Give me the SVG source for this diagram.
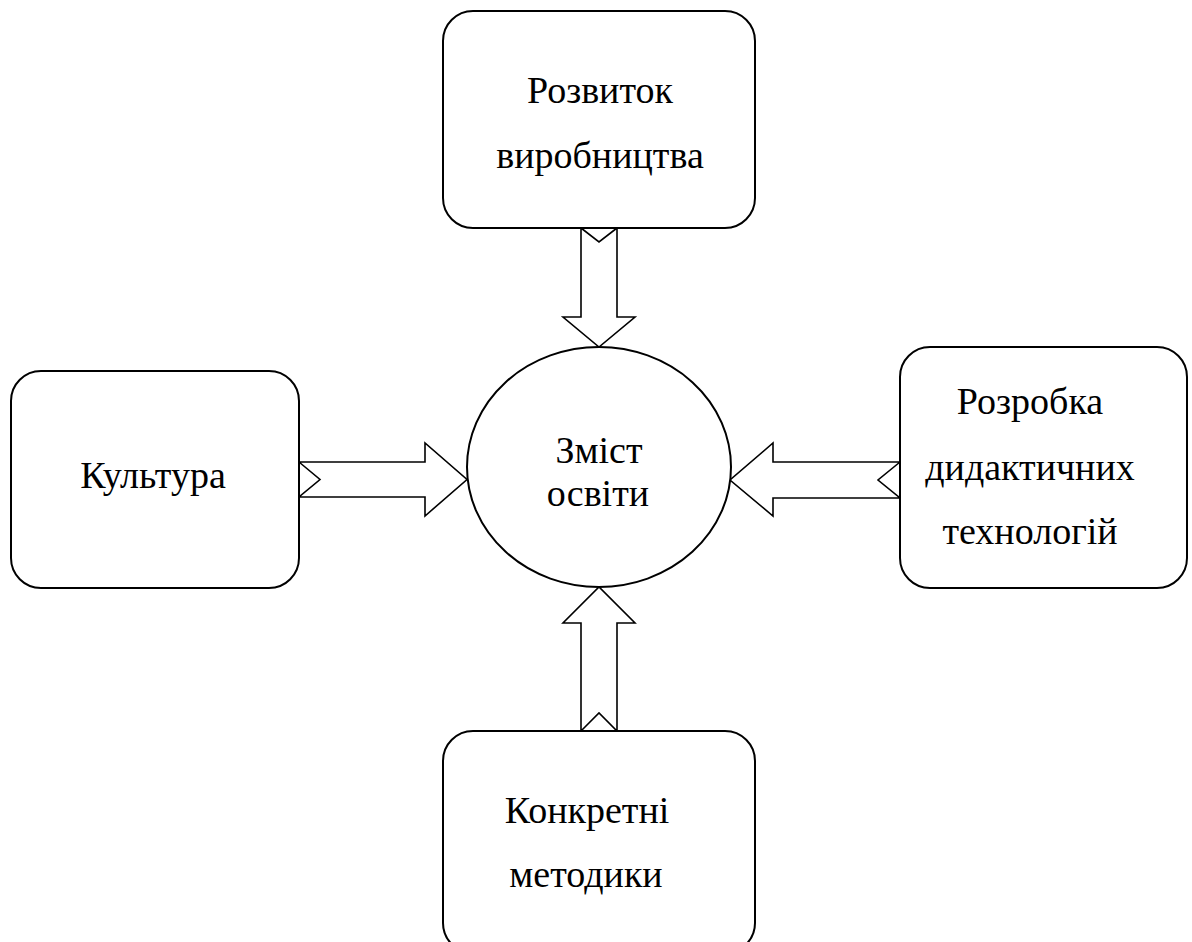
<svg xmlns="http://www.w3.org/2000/svg" width="1192" height="942" viewBox="0 0 1192 942">
<style>
.box{fill:#fff;stroke:#000;stroke-width:2}
.arr{fill:#fff;stroke:#000;stroke-width:1.6;stroke-linejoin:miter}
.t{font-family:"Liberation Serif","Times New Roman",serif;font-size:38px;fill:#000;text-anchor:middle}
</style>
<rect width="1192" height="942" fill="#fff"/>
<g id="connectors">
<polygon class="arr" points="581,228 599,242 617,228 617,317 635,317 599,347 563,317 581,317"/>
<polygon class="arr" points="299,462 320,479.5 299,497 425,497 425,516 467,479.5 425,443 425,462"/>
<polygon class="arr" points="900,462 878,480 900,498 773,498 773,516 730,480 773,443 773,462"/>
<polygon class="arr" points="581,731 599,713 617,731 617,623 635,623 599,587 563,623 581,623"/>
</g>
<g id="node-center">
<ellipse class="box" cx="599" cy="467" rx="132" ry="120"/>
<text class="t" x="599" y="463">Зміст</text>
<text class="t" x="598" y="506">освіти</text>
</g>
<g id="node-top">
<rect class="box" x="443" y="11" width="312" height="217" rx="30" ry="30"/>
<text class="t" x="600" y="103">Розвиток</text>
<text class="t" x="600" y="168">виробництва</text>
</g>
<g id="node-left">
<rect class="box" x="11" y="371" width="288" height="217" rx="30" ry="30"/>
<text class="t" x="153" y="488">Культура</text>
</g>
<g id="node-right">
<rect class="box" x="900" y="347" width="287" height="241" rx="30" ry="30"/>
<text class="t" x="1030" y="414">Розробка</text>
<text class="t" x="1030" y="480">дидактичних</text>
<text class="t" x="1030" y="544">технологій</text>
</g>
<g id="node-bottom">
<rect class="box" x="443" y="731" width="312" height="222" rx="30" ry="30"/>
<text class="t" x="587" y="823">Конкретні</text>
<text class="t" x="586" y="887">методики</text>
</g>
</svg>
